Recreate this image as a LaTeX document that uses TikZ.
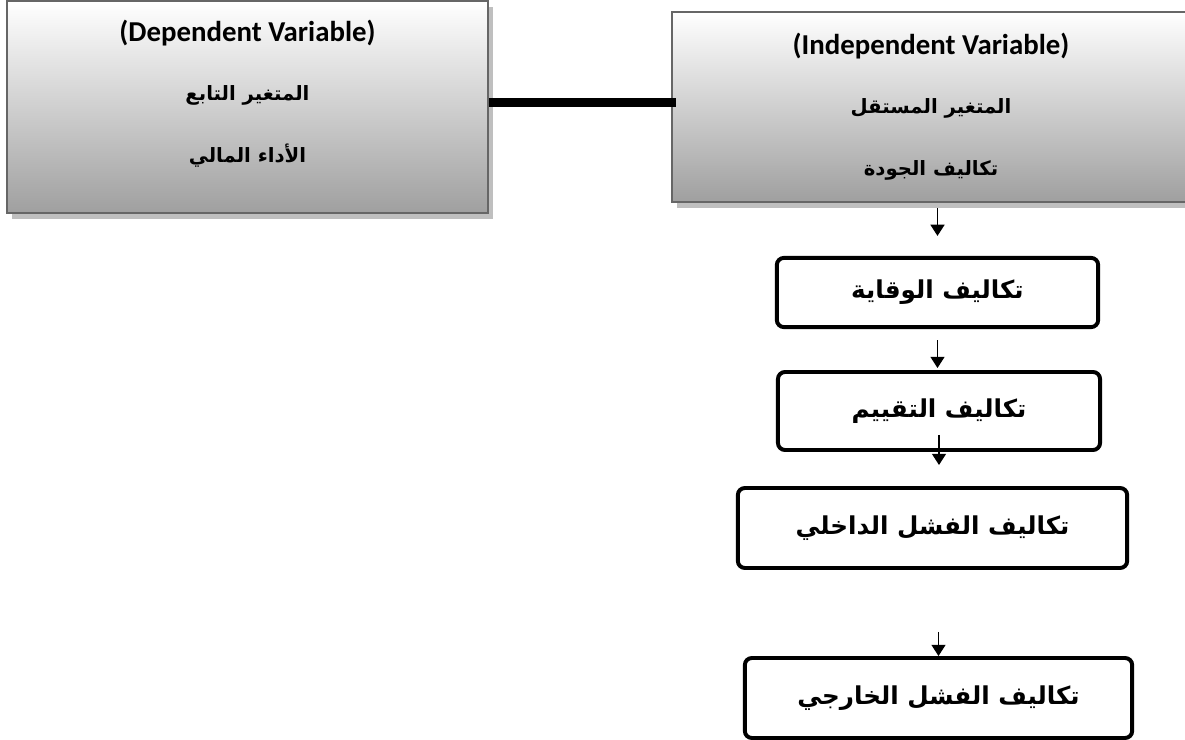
\documentclass[tikz,border=0pt]{standalone}
\usepackage{fontspec}
\setmainfont{Carlito}
\newfontfamily\arabicfont[Script=Arabic]{DejaVu Sans}
\TeXXeTstate=1
\usetikzlibrary{shadows, arrows.meta}

\begin{document}
\begin{tikzpicture}[x=0.025cm, y=-0.025cm,
  varbox/.style={rectangle, draw=black!60, line width=1.4pt,
    top color=white, bottom color=gray!75,
    drop shadow={shadow xshift=0.125cm, shadow yshift=-0.15cm,
      fill=gray!50, opacity=1}},
  vartext/.style={align=center, font=\bfseries\fontsize{20.5}{24}\selectfont},
  arline/.style={font=\arabicfont\bfseries\fontsize{14}{17}\selectfont},
  costbox/.style={rectangle, rounded corners=5pt, draw=black,
    line width=2.8pt, fill=white, align=center,
    font=\arabicfont\bfseries\fontsize{17.5}{21}\selectfont},
  flow/.style={-{Triangle[width=10pt,length=8pt]}, line width=1pt}
]
  \useasboundingbox (0,0) rectangle (1185,740);
  \clip (0,0) rectangle (1185,740);

  % variable boxes
  \node[varbox, minimum width=12.025cm, minimum height=5.3cm] (depbox) at (247.5,107) {};
  \node[varbox, minimum width=12.95cm, minimum height=4.75cm] (indbox) at (931,107) {};

  \node[vartext] (deptext) at ([yshift=0.33cm]depbox.center)
    {(Dependent Variable)\\[18pt]
     {\arabicfont\fontsize{14}{17}\selectfont\beginR المتغير التابع\endR}\\[20pt]
     {\arabicfont\fontsize{14}{17}\selectfont\beginR الأداء المالي\endR}};
  \node[vartext] (indtext) at (indbox.center)
    {(Independent Variable)\\[18pt]
     {\arabicfont\fontsize{14}{17}\selectfont\beginR المتغير المستقل\endR}\\[20pt]
     {\arabicfont\fontsize{14}{17}\selectfont\beginR تكاليف الجودة\endR}};

  \draw[line width=6.4pt, shorten >=-0.125cm] ([yshift=0.1cm]depbox.east) -- ([yshift=0.1cm]indbox.west);

  % cost boxes
  \node[costbox, minimum width=8.03cm, minimum height=1.73cm] (prev) at (937.5,292.5) {\beginR تكاليف الوقاية\endR};
  \node[costbox, minimum width=8.05cm, minimum height=1.95cm] (appr) at (939,411) {\beginR تكاليف التقييم\endR};
  \node[costbox, minimum width=9.73cm, minimum height=2cm] (intfail) at (932.5,528) {\beginR تكاليف الفشل الداخلي\endR};
  \node[costbox, minimum width=9.68cm, minimum height=2cm] (extfail) at (938.5,698) {\beginR تكاليف الفشل الخارجي\endR};

  \draw[flow, shorten <=0.125cm, shorten >=0.5cm] (indbox.south -| prev.north) -- (prev.north);
  \draw[flow, shorten <=0.275cm, shorten >=0.05cm] (prev.south) -- (prev.south |- appr.north);
  \draw[flow, shorten <=-0.425cm, shorten >=0.525cm] (appr.south) -- (appr.south |- intfail.north);
  \draw[flow, shorten <=1.55cm] (intfail.south -| extfail.north) -- (extfail.north);
\end{tikzpicture}
\end{document}
